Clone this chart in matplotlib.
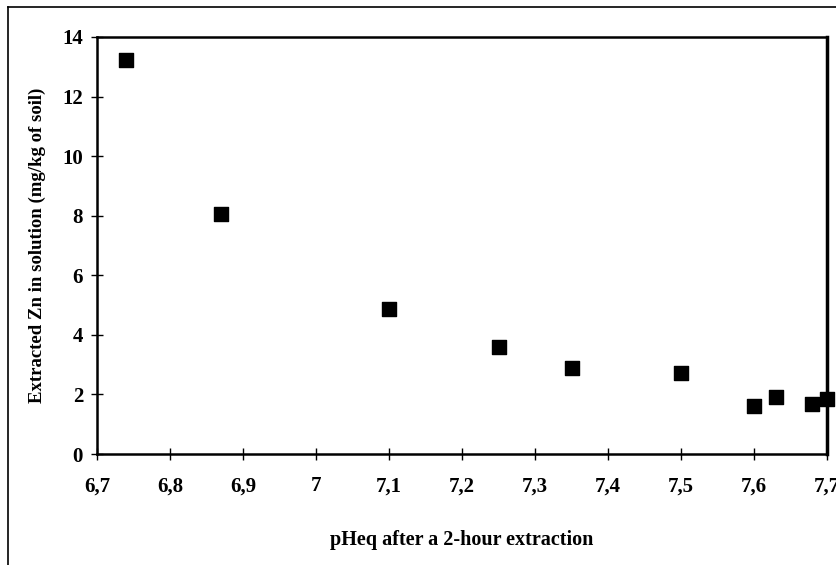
import matplotlib.pyplot as plt
from matplotlib.lines import Line2D
from matplotlib.ticker import FuncFormatter

# pH after extraction and extracted Zn (mg/kg of soil)
ph = [6.74, 6.87, 7.10, 7.25, 7.35, 7.50, 7.60, 7.63, 7.68, 7.70]
zn = [13.22, 8.05, 4.87, 3.60, 2.89, 2.71, 1.60, 1.92, 1.68, 1.84]

plt.rcParams['font.family'] = ['Liberation Serif', 'DejaVu Serif']
plt.rcParams['font.weight'] = 'bold'

fig = plt.figure(figsize=(8.37, 5.65), dpi=100)
ax = fig.add_axes([97/837, 1-454/565, 730/837, 417/565])

ax.scatter(ph, zn, marker='s', s=90, color='black', zorder=3, clip_on=False)

ax.set_xlim(6.7, 7.7)
ax.set_ylim(0, 14)
ax.set_xticks([6.7 + 0.1*i for i in range(11)])
ax.set_yticks(range(0, 15, 2))

def comma(v, pos):
    s = ('%.1f' % v).rstrip('0').rstrip('.')
    return s.replace('.', ',')

ax.xaxis.set_major_formatter(FuncFormatter(comma))
ax.tick_params(direction='inout', length=8, width=1, labelsize=15)
ax.tick_params(axis='x', pad=12)
ax.tick_params(axis='y', pad=6)
for sp in ax.spines.values():
    sp.set_linewidth(1.8)
ax.spines['right'].set_linewidth(2.5)

ax.set_xlabel('pHeq after a 2-hour extraction', fontsize=14.5, fontweight='bold', labelpad=24)
ax.set_ylabel('Extracted Zn in solution (mg/kg of soil)', fontsize=13.5, fontweight='bold', labelpad=12)

# outer frame of the figure (left and top edges)
fig.add_artist(Line2D([8/837, 8/837], [0, 1-7/565], color='black', lw=1.2))
fig.add_artist(Line2D([8/837, 1], [1-7/565, 1-7/565], color='black', lw=1.2))

fig.savefig('out.png', dpi=100)
